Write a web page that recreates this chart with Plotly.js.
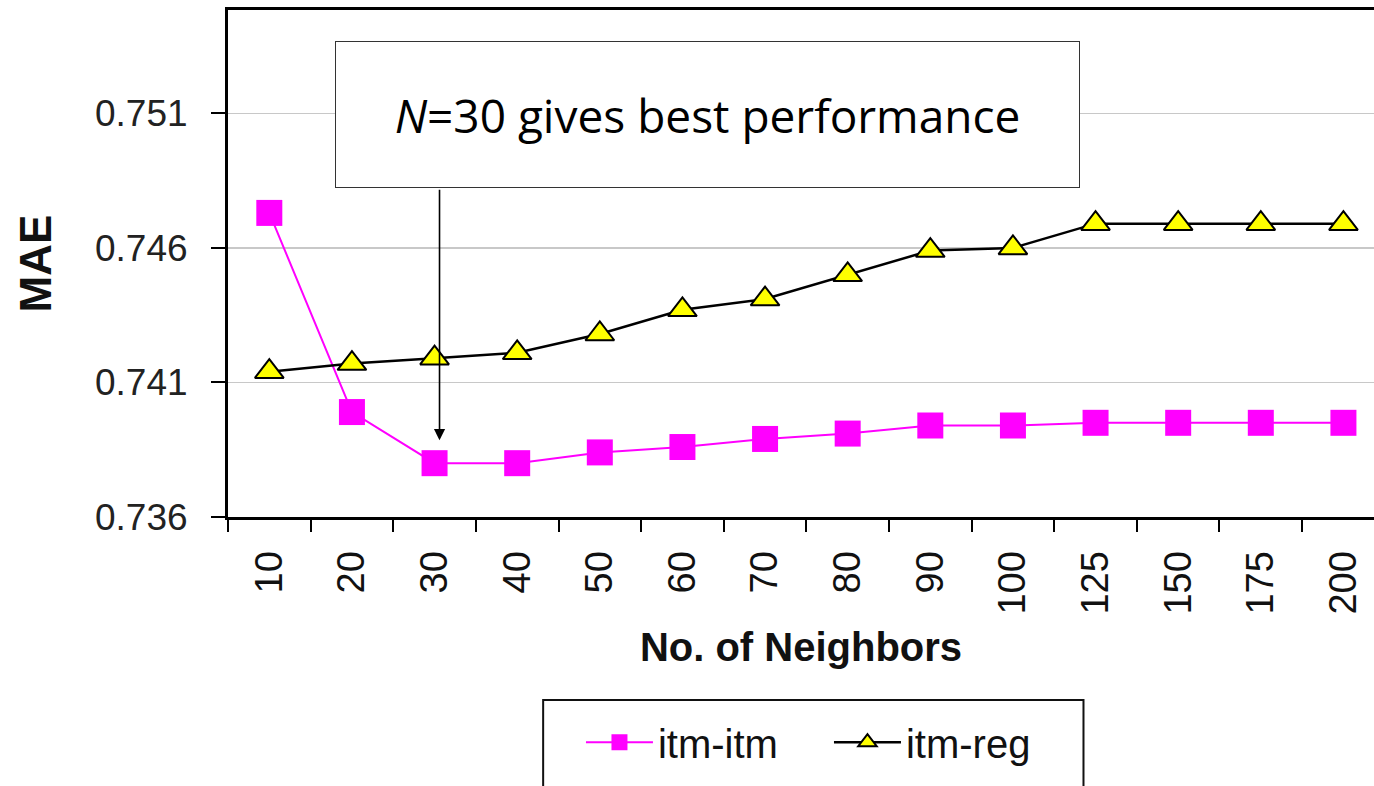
<!DOCTYPE html>
<html>
<head>
<meta charset="utf-8">
<script src="https://cdn.plot.ly/plotly-3.0.1.min.js"></script>
<style>
  html, body { margin: 0; padding: 0; background: #fff; }
  #chart { width: 1374px; height: 786px; }
</style>
</head>
<body>
<div id="chart"></div>
<script>
// Data
const neighbors = ['10', '20', '30', '40', '50', '60', '70', '80', '90', '100', '125', '150', '175', '200'];
const itmItm = [0.7473, 0.7399, 0.7380, 0.7380, 0.7384, 0.7386, 0.7389, 0.7391, 0.7394, 0.7394, 0.7395, 0.7395, 0.7395, 0.7395];
const itmReg = [0.7414, 0.7417, 0.7419, 0.7421, 0.7428, 0.7437, 0.7441, 0.7450, 0.7459, 0.7460, 0.7469, 0.7469, 0.7469, 0.7469];
const yTicks = [0.736, 0.741, 0.746, 0.751];
const yTickLabels = ['0.736', '0.741', '0.746', '0.751'];
const seriesNames = ['itm-itm', 'itm-reg'];
const noteText = '<i>N</i>=30 gives best performance';
const bestIndex = 2; // N = 30

const traces = [
  {
    type: 'scatter', mode: 'lines+markers', name: seriesNames[0],
    x: neighbors, y: itmItm,
    line: { color: '#FF00FF', width: 2 },
    marker: { symbol: 'square', size: 26, color: '#FF00FF', line: { width: 0 } },
    cliponaxis: false
  },
  {
    type: 'scatter', mode: 'lines+markers', name: seriesNames[1],
    x: neighbors, y: itmReg,
    line: { color: '#000000', width: 2.5 },
    marker: { symbol: 'triangle-up', size: 25, color: '#FFFF00', line: { color: '#000000', width: 2 } },
    cliponaxis: false
  }
];

const layout = {
  width: 1374, height: 786,
  margin: { l: 228, r: 0, t: 10, b: 269, pad: 0 },
  paper_bgcolor: '#ffffff', plot_bgcolor: '#ffffff',
  font: { family: 'Liberation Sans, Arial, sans-serif', color: '#111111' },
  showlegend: true,
  legend: {
    orientation: 'h', x: 0.308, xanchor: 'left', y: -0.38, yanchor: 'top',
    font: { family: 'Liberation Sans, Arial, sans-serif', size: 40, color: '#111111' },
    bgcolor: 'rgba(0,0,0,0)', borderwidth: 0, itemwidth: 67, tracegroupgap: 0,
    entrywidth: 166, entrywidthmode: 'pixels'
  },
  xaxis: {
    type: 'category',
    range: [-0.5, 13.37],
    showline: true, linecolor: '#000000', linewidth: 3, mirror: true,
    ticks: 'outside', ticklen: 12, tickwidth: 2, tickcolor: '#000000',
    tickson: 'boundaries',
    tickangle: -90,
    ticklabelstandoff: 16,
    tickfont: { family: 'Liberation Sans, Arial, sans-serif', size: 38, color: '#111111' },
    showgrid: false, zeroline: false,
    title: { text: '<b>No. of Neighbors</b>', font: { family: 'Liberation Sans, Arial, sans-serif', size: 40, color: '#111111' }, standoff: 20 },
    fixedrange: true
  },
  yaxis: {
    range: [0.736, 0.75484],
    tickvals: yTicks, ticktext: yTickLabels,
    showline: true, linecolor: '#000000', linewidth: 3, mirror: false,
    ticks: 'outside', ticklen: 14, tickwidth: 2, tickcolor: '#000000',
    ticklabelstandoff: 16,
    tickfont: { family: 'Liberation Sans, Arial, sans-serif', size: 37, color: '#222222' },
    showgrid: true, gridcolor: '#c8c8c8', gridwidth: 1.5,
    zeroline: false,
    title: { text: '<b>MAE</b>', font: { family: 'Liberation Sans, Arial, sans-serif', size: 44, color: '#111111' }, standoff: 30 },
    fixedrange: true
  },
  shapes: [
    {
      type: 'rect', xref: 'paper', yref: 'paper',
      x0: 0.275, x1: 0.7465, y0: -0.361, y1: -0.62,
      line: { color: '#111111', width: 2 }, fillcolor: 'rgba(0,0,0,0)', layer: 'above'
    }
  ],
  annotations: [
    {
      xref: 'paper', yref: 'paper', x: 0.4184, y: 0.7939,
      xanchor: 'center', yanchor: 'middle',
      text: noteText, showarrow: false,
      font: { family: 'Open Sans, Noto Sans, sans-serif', size: 46, color: '#000000' },
      bgcolor: '#ffffff', bordercolor: '#333333', borderwidth: 1, borderpad: 0,
      width: 743, height: 145, align: 'center', valign: 'middle'
    },
    {
      xref: 'x', yref: 'y', x: bestIndex + 0.06, y: 0.73885,
      axref: 'pixel', ayref: 'pixel', ax: 0, ay: -252,
      text: '', showarrow: true,
      arrowhead: 2, arrowsize: 1.4, arrowwidth: 1.6, arrowcolor: '#000000', standoff: 0
    }
  ]
};

Plotly.newPlot('chart', traces, layout, { displayModeBar: false, staticPlot: true });
</script>
</body>
</html>
